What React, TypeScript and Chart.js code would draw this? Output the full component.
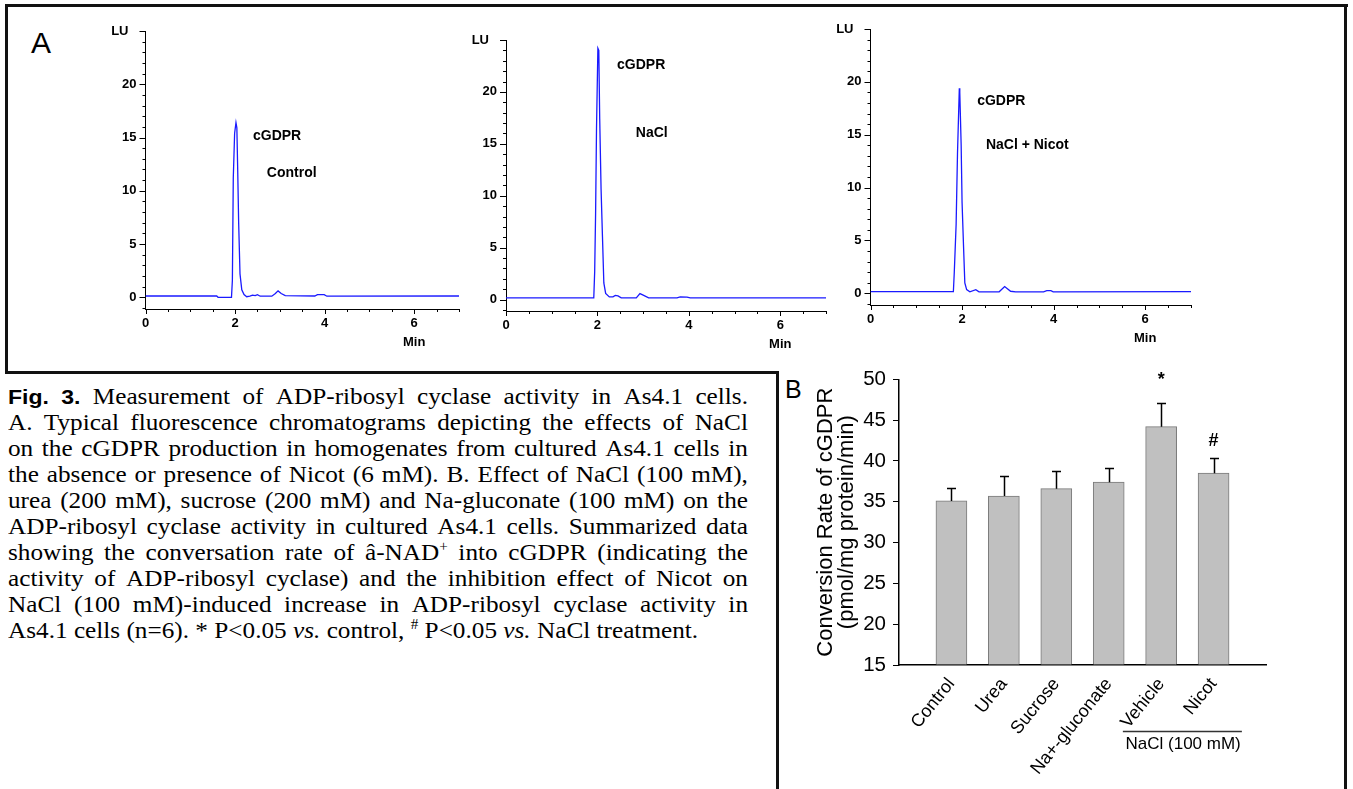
import React, { useEffect, useRef } from "react";
import { Chart, registerables } from "chart.js";
Chart.register(...registerables);

// ---------- Panel A: chromatograms (time in min, signal in LU) ----------
const controlTime = [0, 1.59, 1.62, 1.92, 1.94, 1.96, 1.99, 2.02, 2.04, 2.06, 2.08, 2.11, 2.15, 2.2, 2.26, 2.33, 2.39, 2.45, 2.5, 2.56, 2.82, 2.9, 2.96, 3.03, 3.12, 3.78, 3.84, 3.99, 4.05, 7.0];
const controlLU = [0.12, 0.12, 0.0, 0.0, 1.6, 11.2, 15.4, 16.4, 15.9, 11.7, 7.0, 2.2, 0.7, 0.25, 0.05, 0.1, 0.2, 0.15, 0.25, 0.1, 0.1, 0.35, 0.6, 0.35, 0.15, 0.12, 0.25, 0.25, 0.1, 0.12];

const naclTime = [0, 1.92, 1.94, 1.96, 1.98, 2.01, 2.03, 2.05, 2.08, 2.11, 2.14, 2.18, 2.26, 2.34, 2.39, 2.45, 2.52, 2.85, 2.93, 2.99, 3.12, 3.74, 3.81, 3.96, 4.03, 7.0];
const naclLU = [0.16, 0.16, 2.7, 8.3, 16.5, 24.2, 24.0, 17.4, 10.6, 6.1, 1.6, 0.6, 0.26, 0.26, 0.4, 0.35, 0.16, 0.16, 0.58, 0.45, 0.16, 0.16, 0.26, 0.23, 0.16, 0.16];

const nicotTime = [0, 1.81, 1.83, 1.87, 1.9, 1.94, 1.95, 1.98, 2.0, 2.03, 2.06, 2.1, 2.17, 2.3, 2.37, 2.81, 2.93, 3.06, 3.17, 3.78, 3.85, 3.94, 3.99, 7.0];
const nicotLU = [0.16, 0.16, 2.0, 6.5, 13.2, 19.4, 19.0, 14.0, 8.6, 4.7, 1.0, 0.35, 0.15, 0.35, 0.15, 0.15, 0.65, 0.2, 0.15, 0.15, 0.25, 0.25, 0.15, 0.16];

const chromXLabels = [0, 2, 4, 6];
const chromYLabels = [0, 5, 10, 15, 20];

// ---------- Panel B: bar chart ----------
const categories = ["Control", "Urea", "Sucrose", "Na+-gluconate", "Vehicle", "Nicot"];
const means = [35.1, 35.7, 36.6, 37.4, 44.2, 38.5];
const errors = [1.6, 2.4, 2.2, 1.7, 2.9, 1.9];
const marks = ["", "", "", "", "*", "#"];
const yTitleLines = ["Conversion Rate of cGDPR", "(pmol/mg protein/min)"];

// ---------- Caption ----------
const captionLines = [
  "**Fig.** **3.** Measurement of ADP-ribosyl cyclase activity in As4.1 cells.",
  "A. Typical fluorescence chromatograms depicting the effects of NaCl",
  "on the cGDPR production in homogenates from cultured As4.1 cells in",
  "the absence or presence of Nicot (6 mM). B. Effect of NaCl (100 mM),",
  "urea (200 mM), sucrose (200 mM) and Na-gluconate (100 mM) on the",
  "ADP-ribosyl cyclase activity in cultured As4.1 cells. Summarized data",
  "showing the conversation rate of â-NAD^+ into cGDPR (indicating the",
  "activity of ADP-ribosyl cyclase) and the inhibition effect of Nicot on",
  "NaCl (100 mM)-induced increase in ADP-ribosyl cyclase activity in",
];
const captionLast = "As4.1 cells (n=6). * P<0.05 _vs._ control, ^# P<0.05 _vs._ NaCl treatment.";

type Note = { text: string; t: number; v: number };

function chromDecor(notes: Note[]) {
  return {
    id: "chromDecor",
    afterDraw(chart: any) {
      const { ctx, chartArea: a, scales } = chart;
      const x = scales.x;
      const y = scales.y;
      ctx.save();
      ctx.strokeStyle = "#000";
      ctx.lineWidth = 1;
      ctx.beginPath();
      for (const t of x.ticks) {
        const px = Math.round(x.getPixelForValue(t.value)) + 0.5;
        const len = t.value % 2 === 0 ? 5 : 3;
        ctx.moveTo(px, a.bottom);
        ctx.lineTo(px, a.bottom + len);
      }
      for (const t of y.ticks) {
        const py = Math.round(y.getPixelForValue(t.value)) + 0.5;
        const len = t.value % 5 === 0 ? 6 : 3;
        ctx.moveTo(a.left - len, py);
        ctx.lineTo(a.left, py);
      }
      ctx.stroke();
      ctx.fillStyle = "#000";
      ctx.font = "bold 13px Arial, 'Liberation Sans', sans-serif";
      ctx.textBaseline = "middle";
      ctx.textAlign = "right";
      ctx.fillText("LU", a.left - 17, a.top);
      ctx.textAlign = "center";
      ctx.fillText("Min", x.getPixelForValue(6), a.bottom + 33);
      ctx.font = "bold 14px Arial, 'Liberation Sans', sans-serif";
      ctx.textAlign = "left";
      for (const n of notes) {
        ctx.fillText(n.text, x.getPixelForValue(n.t), y.getPixelForValue(n.v));
      }
      ctx.restore();
    },
  };
}

function makeChrom(
  canvas: HTMLCanvasElement,
  time: number[],
  lu: number[],
  notes: Note[],
  yW: number,
  xH: number,
  padT: number,
  padR: number
) {
  const tickFont = { family: "Arial, 'Liberation Sans', sans-serif", size: 13, weight: "bold" as const };
  return new Chart(canvas, {
    type: "line",
    data: {
      datasets: [
        {
          data: time.map((t, i) => ({ x: t, y: lu[i] })),
          borderColor: "#1a1aff",
          borderWidth: 1.3,
          pointRadius: 0,
          tension: 0,
          fill: false,
        },
      ],
    },
    options: {
      animation: false,
      responsive: false,
      devicePixelRatio: 1,
      events: [],
      layout: { padding: { top: padT, right: padR, left: 0, bottom: 0 } },
      plugins: { legend: { display: false }, tooltip: { enabled: false } },
      scales: {
        x: {
          type: "linear",
          min: 0,
          max: 7,
          afterFit: (s: any) => {
            s.height = xH;
          },
          grid: { display: false, drawTicks: false },
          border: { display: true, color: "#000", width: 1 },
          ticks: {
            stepSize: 0.5,
            autoSkip: false,
            maxRotation: 0,
            minRotation: 0,
            includeBounds: false,
            padding: 7,
            color: "#000",
            font: tickFont,
            callback: (v: any) => (chromXLabels.includes(Number(v)) ? String(v) : ""),
          },
        },
        y: {
          type: "linear",
          min: -1.1,
          max: 25,
          afterFit: (s: any) => {
            s.width = yW;
          },
          grid: { display: false, drawTicks: false },
          border: { display: true, color: "#000", width: 1 },
          ticks: {
            stepSize: 1,
            autoSkip: false,
            includeBounds: false,
            padding: 9,
            color: "#000",
            font: tickFont,
            callback: (v: any) => (chromYLabels.includes(Number(v)) ? String(v) : ""),
          },
        },
      },
    } as any,
    plugins: [chromDecor(notes)],
  });
}

const barDecor = {
  id: "barDecor",
  afterDatasetsDraw(chart: any) {
    const { ctx, chartArea: a, scales } = chart;
    const x = scales.x;
    const y = scales.y;
    ctx.save();
    ctx.strokeStyle = "#000";
    ctx.lineWidth = 1.5;
    ctx.beginPath();
    means.forEach((m, i) => {
      const px = Math.round(x.getPixelForValue(i)) + 0.5;
      const y0 = y.getPixelForValue(m);
      const y1 = Math.round(y.getPixelForValue(m + errors[i])) + 0.5;
      ctx.moveTo(px, y0);
      ctx.lineTo(px, y1);
      ctx.moveTo(px - 4.5, y1);
      ctx.lineTo(px + 4.5, y1);
    });
    ctx.stroke();

    ctx.fillStyle = "#000";
    ctx.textAlign = "center";
    ctx.textBaseline = "alphabetic";
    ctx.font = "bold 18px Arial, 'Liberation Sans', sans-serif";
    marks.forEach((mk, i) => {
      if (!mk) return;
      const px = x.getPixelForValue(i);
      const top = y.getPixelForValue(means[i] + errors[i]);
      ctx.fillText(mk, px, top - (mk === "*" ? 18 : 12));
    });

    // NaCl group bracket
    ctx.strokeStyle = "#333";
    ctx.lineWidth = 1.5;
    ctx.beginPath();
    const ly = Math.round(a.bottom + 66) + 0.5;
    ctx.moveTo(x.getPixelForValue(3.27), ly);
    ctx.lineTo(x.getPixelForValue(5.54), ly);
    ctx.stroke();
    ctx.font = "17px Arial, 'Liberation Sans', sans-serif";
    ctx.textBaseline = "middle";
    ctx.fillText("NaCl (100 mM)", x.getPixelForValue(4.42), a.bottom + 79);

    // y-axis title
    ctx.font = "22px Arial, 'Liberation Sans', sans-serif";
    const cy = (a.top + a.bottom) / 2;
    yTitleLines.forEach((line, i) => {
      ctx.save();
      ctx.translate(56 + i * 21, cy);
      ctx.rotate(-Math.PI / 2);
      ctx.fillText(line, 0, 0);
      ctx.restore();
    });
    ctx.restore();
  },
};

function makeBars(canvas: HTMLCanvasElement) {
  return new Chart(canvas, {
    type: "bar",
    data: {
      datasets: [
        {
          data: means.map((m, i) => ({ x: i, y: m })),
          backgroundColor: "#c0c0c0",
          borderColor: "#7a7a7a",
          borderWidth: 1,
          borderSkipped: "start",
          barThickness: 31,
          base: 15,
        } as any,
      ],
    },
    options: {
      animation: false,
      responsive: false,
      devicePixelRatio: 1,
      events: [],
      layout: { padding: { top: 18, right: 79, left: 0, bottom: 0 } },
      plugins: { legend: { display: false }, tooltip: { enabled: false } },
      scales: {
        x: {
          type: "linear",
          min: -1,
          max: 6,
          offset: false,
          afterFit: (s: any) => {
            s.height = 124;
          },
          grid: { display: false, drawTicks: false, offset: false },
          border: { display: true, color: "#000", width: 1.5 },
          ticks: {
            stepSize: 1,
            autoSkip: false,
            minRotation: 51,
            maxRotation: 51,
            padding: 9,
            color: "#000",
            font: { family: "Arial, 'Liberation Sans', sans-serif", size: 18 },
            callback: (v: any) => categories[Number(v)] ?? "",
          },
        },
        y: {
          type: "linear",
          min: 15,
          max: 50,
          afterFit: (s: any) => {
            s.width = 129;
          },
          grid: { display: true, drawOnChartArea: false, drawTicks: true, tickLength: 6, color: "#000", tickColor: "#000" },
          border: { display: true, color: "#000", width: 1.5 },
          ticks: {
            stepSize: 5,
            padding: 7,
            color: "#000",
            font: { family: "Arial, 'Liberation Sans', sans-serif", size: 20.5 },
          },
        },
      },
    } as any,
    plugins: [barDecor],
  });
}

function ChartCanvas(props: { left: number; top: number; width: number; height: number; make: (c: HTMLCanvasElement) => Chart }) {
  const ref = useRef<HTMLCanvasElement>(null);
  useEffect(() => {
    const chart = props.make(ref.current as HTMLCanvasElement);
    return () => chart.destroy();
  }, []);
  return (
    <canvas
      ref={ref}
      width={props.width}
      height={props.height}
      style={{ position: "absolute", left: props.left, top: props.top, width: props.width, height: props.height }}
    />
  );
}

const supStyle: React.CSSProperties = { fontSize: "0.6em", verticalAlign: "super", lineHeight: 0 };

function renderToken(tok: string, key: number) {
  if (tok.startsWith("**")) {
    return (
      <span key={key} style={{ fontFamily: "Arial, 'Liberation Sans', sans-serif", fontWeight: "bold", fontSize: 21 }}>
        {tok.slice(2, -2)}
      </span>
    );
  }
  if (tok.startsWith("_")) {
    return <i key={key}>{tok.slice(1, -1)}</i>;
  }
  if (tok.includes("^")) {
    const [a, b] = tok.split("^");
    return (
      <span key={key}>
        {a}
        <sup style={supStyle}>{b}</sup>
      </span>
    );
  }
  return <span key={key}>{tok}</span>;
}

function Line(props: { left: number; top: number; width: number; height: number }) {
  return <div style={{ position: "absolute", background: "#111", ...props }} />;
}

const CAPTION_STRETCH = 1.097;

export default function App() {
  const serif = "'Liberation Serif', 'Times New Roman', Times, serif";
  return (
    <div style={{ position: "absolute", left: 0, top: 0, width: 1353, height: 789, background: "#fff", overflow: "hidden" }}>
      {/* frame */}
      <Line left={5} top={4} width={1343} height={3} />
      <Line left={5} top={4} width={3} height={370} />
      <Line left={5} top={371} width={774} height={3} />
      <Line left={776} top={371} width={3} height={418} />
      <Line left={1344} top={4} width={3} height={785} />

      <div style={{ position: "absolute", left: 31, top: 28, fontFamily: "Arial, 'Liberation Sans', sans-serif", fontSize: 30, lineHeight: 1 }}>A</div>
      <div style={{ position: "absolute", left: 785, top: 377, fontFamily: "Arial, 'Liberation Sans', sans-serif", fontSize: 25, lineHeight: 1 }}>B</div>

      <ChartCanvas
        left={95}
        top={12}
        width={380}
        height={350}
        make={(c) =>
          makeChrom(c, controlTime, controlLU, [
            { text: "cGDPR", t: 2.4, v: 15.1 },
            { text: "Control", t: 2.71, v: 11.7 },
          ], 50.5, 53, 19, 16)
        }
      />
      <ChartCanvas
        left={460}
        top={12}
        width={380}
        height={350}
        make={(c) =>
          makeChrom(c, naclTime, naclLU, [
            { text: "cGDPR", t: 2.43, v: 22.6 },
            { text: "NaCl", t: 2.84, v: 16.05 },
          ], 46, 51, 28, 14)
        }
      />
      <ChartCanvas
        left={822}
        top={12}
        width={390}
        height={350}
        make={(c) =>
          makeChrom(c, nicotTime, nicotLU, [
            { text: "cGDPR", t: 2.33, v: 18.2 },
            { text: "NaCl + Nicot", t: 2.52, v: 14.0 },
          ], 48.5, 57, 17, 21)
        }
      />

      <ChartCanvas left={770} top={360} width={575} height={429} make={makeBars} />

      {/* caption */}
      <div
        style={{
          position: "absolute",
          left: 8,
          top: 384,
          width: 740 / CAPTION_STRETCH,
          transform: `scaleX(${CAPTION_STRETCH})`,
          transformOrigin: "0 0",
          fontFamily: serif,
          fontSize: 23,
          lineHeight: "26px",
          color: "#000",
        }}
      >
        {captionLines.map((ln, li) => (
          <div key={li} style={{ display: "flex", justifyContent: "space-between", whiteSpace: "nowrap", height: 26 }}>
            {ln.split(" ").map((t, i) => renderToken(t, i))}
          </div>
        ))}
        <div style={{ whiteSpace: "nowrap", height: 26 }}>
          {captionLast.split(" ").map((t, i) => (
            <React.Fragment key={i}>
              {i > 0 ? " " : null}
              {renderToken(t, i)}
            </React.Fragment>
          ))}
        </div>
      </div>
    </div>
  );
}
